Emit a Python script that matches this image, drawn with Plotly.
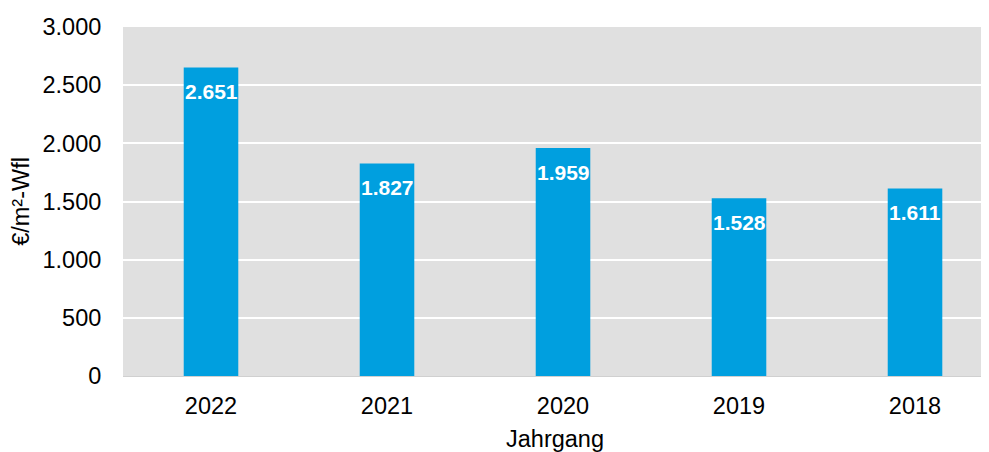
import plotly.graph_objects as go

years = ["2022", "2021", "2020", "2019", "2018"]
values = [2651, 1827, 1959, 1528, 1611]
value_labels = ["2.651", "1.827", "1.959", "1.528", "1.611"]
y_tickvals = [0, 500, 1000, 1500, 2000, 2500, 3000]
y_ticktext = ["0", "500", "1.000", "1.500", "2.000", "2.500", "3.000"]

FONT = "Liberation Sans, Arial, sans-serif"
FS = 23.5

fig = go.Figure()
fig.add_trace(go.Bar(
    x=years, y=values,
    marker=dict(color="#009FDF", line=dict(width=0)),
    width=0.31,
    hoverinfo="skip",
))

for i, (v, lab) in enumerate(zip(values, value_labels)):
    fig.add_annotation(
        x=i, y=v, xref="x", yref="y", text=f"<b>{lab}</b>", showarrow=False,
        yanchor="middle", xanchor="center", yshift=-24,
        font=dict(family=FONT, size=21, color="white"),
    )

fig.update_layout(
    width=981, height=444,
    margin=dict(l=115, r=2, t=19, b=76),
    paper_bgcolor="white",
    plot_bgcolor="#e0e0e0",
    showlegend=False,
    font=dict(family=FONT, size=FS, color="black"),
    xaxis=dict(
        type="category",
        range=[-0.5, 4.409],
        automargin=False,
        showgrid=False,
        showline=True, linecolor="#d0d0d0", linewidth=1,
        ticks="outside", ticklen=9, tickcolor="rgba(0,0,0,0)",
        tickfont=dict(family=FONT, size=FS, color="black"),
        title=dict(text="Jahrgang", font=dict(family=FONT, size=FS, color="black"), standoff=12),
        fixedrange=True,
    ),
    yaxis=dict(
        range=[0, 3000],
        automargin=False,
        tickvals=y_tickvals, ticktext=y_ticktext,
        showgrid=True, gridcolor="white", gridwidth=1.5,
        zeroline=False, showline=False,
        ticks="outside", ticklen=16, tickcolor="rgba(0,0,0,0)",
        tickfont=dict(family=FONT, size=FS, color="black"),
        title=dict(text="€/m²-Wfl", font=dict(family=FONT, size=FS, color="black"), standoff=16),
        fixedrange=True,
    ),
)

fig.write_html("out.html")
